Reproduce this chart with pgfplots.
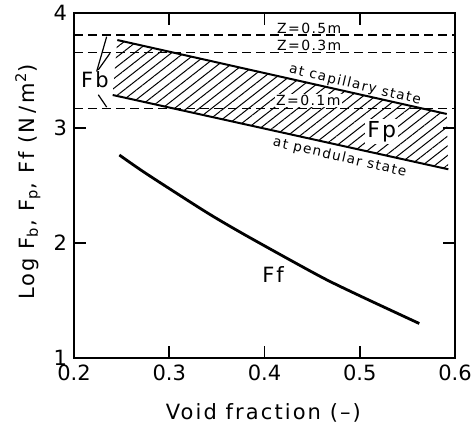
\documentclass[border=0pt]{standalone}
\usepackage{fontspec}
\setmainfont{DejaVu Sans}
\newfontfamily\lsfont{DejaVu Sans}[LetterSpace=10]
\usepackage{pgfplots}
\pgfplotsset{compat=1.18}
\usetikzlibrary{patterns.meta,calc}

\begin{document}
\begin{tikzpicture}
\begin{axis}[
  name=ax,
  scale only axis, width=190.5pt, height=172.5pt,
  xmin=0.2, xmax=0.6, ymin=1, ymax=4,
  xtick={0.2,0.3,0.4,0.5,0.6}, ytick={1,2,3,4},
  xticklabel style={/pgf/number format/fixed,/pgf/number format/precision=1,/pgf/number format/fixed zerofill},
  /pgf/number format/assume math mode=true,
  tick align=inside, major tick length=6pt,
  tick style={line width=0.8pt, black},
  axis line style={line width=1pt},
  ticklabel style={font=\fontsize{10.5}{12}\selectfont},
  label style={font=\lsfont\fontsize{10.5}{12}\selectfont},
  xlabel={Void fraction (–)},
  ylabel={Log F\textsubscript{b}, F\textsubscript{p}, Ff (N\,/\,m\textsuperscript{2})},
  x label style={at={(axis description cs:0.497,-0.159)}, anchor=center},
  y label style={at={(axis description cs:-0.121,0.51)}, anchor=center},
  clip=false,
]
% hatched band between the two limits
\addplot[draw=none, pattern={Lines[angle=38,distance=3.8pt,line width=0.5pt]}]
  coordinates {(0.2455,3.765) (0.5913,3.122) (0.593,2.641) (0.2406,3.287)} -- cycle;
\addplot[black, line width=1pt] coordinates {(0.2455,3.765) (0.5913,3.122)};
\addplot[black, line width=1pt] coordinates {(0.2406,3.287) (0.593,2.641)};

% Fb levels
\addplot[black, line width=0.7pt, dash pattern=on 4.5pt off 2.5pt] coordinates {(0.2,3.809) (0.6,3.809)};
\addplot[black, line width=0.7pt, dash pattern=on 4.5pt off 2.5pt] coordinates {(0.2,3.658) (0.6,3.658)};
\addplot[black, line width=0.7pt, dash pattern=on 4.5pt off 2.5pt] coordinates {(0.2,3.171) (0.6,3.171)};

% leaders from Fb label
\addplot[black, line width=0.6pt] coordinates {(0.2238,3.491) (0.2343,3.794)};
\addplot[black, line width=0.6pt] coordinates {(0.2255,3.506) (0.2378,3.650)};
\addplot[black, line width=0.6pt] coordinates {(0.2255,3.289) (0.2343,3.182)};

% Ff
\addplot[black, line width=1.4pt, smooth] coordinates {
  (0.2476,2.765) (0.2728,2.620) (0.3078,2.432) (0.3428,2.248) (0.3777,2.079)
  (0.4302,1.837) (0.4653,1.680) (0.5003,1.540) (0.5352,1.405) (0.5625,1.300)};

\node[font=\lsfont\fontsize{10.5}{12}\selectfont] at (axis cs:0.222,3.42) {Fb};
\node[font=\lsfont\fontsize{11}{12}\selectfont, fill=white, inner sep=1pt] at (axis cs:0.523,2.97) {Fp};
\node[font=\lsfont\fontsize{10.5}{12}\selectfont] at (axis cs:0.409,1.73) {Ff};
\node[font=\lsfont\fontsize{7}{8}\selectfont, inner sep=0.5pt] at (axis cs:0.447,3.867) {Z=0.5m};
\node[font=\lsfont\fontsize{7}{8}\selectfont, inner sep=0.5pt] at (axis cs:0.447,3.722) {Z=0.3m};
\node[font=\lsfont\fontsize{7}{8}\selectfont, fill=white, inner sep=0.8pt] at (axis cs:0.446,3.239) {Z=0.1m};
\node[font=\lsfont\fontsize{6.8}{8}\selectfont, rotate=-13.5] at (axis cs:0.495,3.374) {at capillary state};
\node[font=\lsfont\fontsize{6.8}{8}\selectfont, rotate=-13] at (axis cs:0.479,2.743) {at pendular state};
\end{axis}
\pgfresetboundingbox
\path ($(ax.south west)+(-37pt,-35pt)$) rectangle ($(ax.north east)+(10pt,6.5pt)$);
\end{tikzpicture}
\end{document}
